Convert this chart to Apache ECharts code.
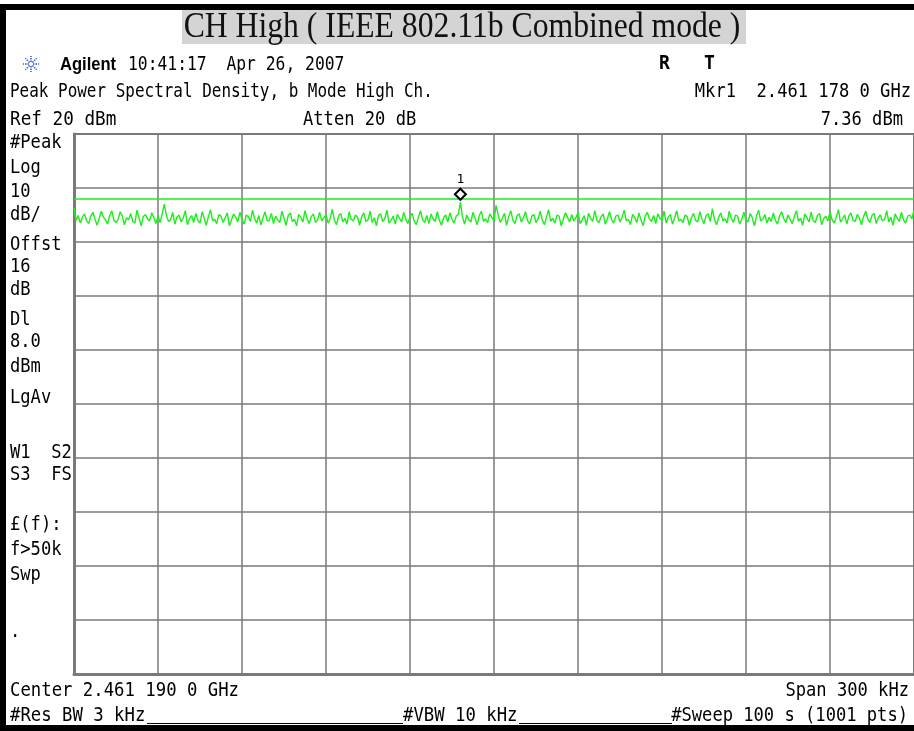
<!DOCTYPE html>
<html>
<head>
<meta charset="utf-8">
<script src="https://cdn.jsdelivr.net/npm/echarts@6/dist/echarts.min.js"></script>
<style>html,body{margin:0;padding:0;background:#fff;}#c{width:914px;height:731px;}</style>
</head>
<body>
<div id="c"></div>
<script>
// ---- data ----
const titleText = 'CH High ( IEEE 802.11b Combined mode )';
const centerGHz = 2.461190;
const spanKHz = 300;
const refLevelDbm = 20;
const dbPerDiv = 10;
const divisionsY = 10;
const divisionsX = 10;
const displayLineDbm = 8.0;
const markerFreqGHz = 2.4611780;
const markerDbm = 7.36;
const traceDbm = [
6.3,4.0,4.9,3.5,4.6,5.2,3.9,3.4,4.8,5.5,4.2,3.1,4.4,5.7,4.6,4.1,3.3,4.9,5.8,4.0,
3.6,4.2,5.6,4.8,3.2,4.5,4.1,5.3,3.8,3.5,5.9,4.4,3.0,4.7,5.1,4.3,3.9,5.4,4.6,3.4,
4.8,3.6,5.2,7.0,4.9,3.8,4.1,5.5,3.3,4.6,5.0,3.7,4.4,5.8,3.2,4.3,4.9,3.6,5.3,4.0,
3.5,5.6,4.4,3.1,4.7,6.0,3.9,4.2,3.4,5.1,4.8,3.6,4.5,5.4,3.0,4.1,5.2,4.6,3.7,5.5,
4.2,3.3,5.0,4.7,3.8,5.9,4.3,3.5,4.9,3.2,4.5,5.6,3.9,4.0,5.3,3.4,4.8,4.1,3.6,5.7,
4.4,3.1,4.9,5.4,3.8,4.2,3.0,5.1,4.6,3.7,5.8,4.3,3.4,4.7,5.2,3.6,4.1,5.5,3.9,4.5,
5.0,3.5,4.3,6.1,4.0,3.2,4.8,5.3,3.7,4.4,3.3,5.6,4.2,3.9,5.0,4.6,3.1,4.7,5.4,3.8,
4.1,5.7,3.6,4.5,3.0,4.9,5.2,3.8,4.3,5.9,3.5,4.0,4.8,3.3,5.1,4.4,3.7,5.5,4.2,3.4,
4.7,5.3,3.9,3.2,4.6,5.8,4.1,3.6,4.9,3.4,5.2,4.3,3.8,5.6,4.0,3.1,4.5,5.0,3.7,5.4,
4.2,3.5,4.8,5.1,7.36,4.6,3.3,5.0,4.1,3.7,5.5,4.4,3.2,4.9,5.7,3.8,4.3,3.6,5.2,4.5,
3.9,6.8,5.0,3.6,4.4,5.3,3.1,4.7,5.8,4.0,3.4,4.9,5.2,3.7,4.5,5.6,3.9,3.3,4.8,5.1,
3.6,4.3,5.7,4.1,3.2,4.6,6.0,3.8,4.4,3.5,5.0,4.8,3.0,4.2,5.4,4.6,3.7,5.1,3.9,4.5,
5.5,3.4,4.1,4.9,3.1,5.3,4.4,3.8,5.8,4.0,3.6,4.7,5.2,3.3,4.3,5.6,4.1,3.5,4.8,5.0,
3.7,4.6,5.9,3.9,4.2,3.2,5.1,4.5,3.6,5.4,4.1,3.0,4.8,5.5,4.3,3.8,4.9,3.4,5.2,4.4,
4.0,5.7,3.5,4.6,5.1,3.3,4.4,5.8,3.9,4.2,3.6,5.0,4.7,3.1,4.5,5.3,4.0,3.7,5.6,4.3,
3.4,4.9,5.2,3.8,6.2,4.1,3.2,4.6,5.4,3.9,4.3,3.5,5.7,4.4,3.6,5.0,4.8,3.3,4.2,5.5,
4.1,3.7,5.3,4.5,3.0,4.8,5.9,3.9,4.2,5.1,3.5,4.6,3.8,5.4,4.0,3.3,4.9,5.6,4.3,3.6,
5.0,4.2,3.4,4.7,5.8,3.8,4.4,3.1,5.2,4.5,3.7,5.5,4.0,3.6,4.9,5.3,3.2,4.3,4.8,3.9,
5.6,4.1,3.5,4.6,6.0,3.7,4.3,5.0,3.3,4.8,5.4,4.0,3.8,5.1,4.4,3.2,4.7,5.7,4.2,3.6,
4.9,5.3,3.4,4.5,5.0,3.9,4.2,5.8,3.7,4.6,3.1,5.2,4.4,3.8,5.5,4.1,3.5,4.8,5.0,4.3,
5.9
];
// annotation texts
const headerTime = '10:41:17  Apr 26, 2007';
const headerLine2Left = 'Peak Power Spectral Density, b Mode High Ch.';
const headerLine2Right = 'Mkr1  2.461 178 0 GHz';
const headerLine3Left = 'Ref 20 dBm';
const headerLine3Mid = 'Atten 20 dB';
const headerLine3Right = '7.36 dBm';
const leftLabels = ['#Peak','Log','10','dB/','Offst','16','dB','Dl','8.0','dBm','LgAv','W1  S2','S3  FS','£(f):','f>50k','Swp','.'];
const footerCenter = 'Center 2.461 190 0 GHz';
const footerSpan = 'Span 300 kHz';
const footerRbw = '#Res BW 3 kHz';
const footerVbw = '#VBW 10 kHz';
const footerSweep = '#Sweep 100 s (1001 pts)';

// ---- build ----
const startGHz = centerGHz - spanKHz / 2 / 1e6;
const n = traceDbm.length;
const traceData = traceDbm.map((v, i) => [i * spanKHz / (n - 1), v]);
const markerOffsetKHz = (markerFreqGHz - startGHz) * 1e6;
const yMax = refLevelDbm, yMin = refLevelDbm - dbPerDiv * divisionsY;

const MONO = '"DejaVu Sans Mono", monospace';
function T(text, x, y, opt) {
  opt = opt || {};
  return {
    type: 'text', x: x, y: y, scaleX: opt.sx || 0.9, z: 100,
    style: {
      text: text, x: 0, y: 0,
      textAlign: opt.align || 'left', textVerticalAlign: 'middle',
      font: (opt.weight || 'normal') + ' ' + (opt.size || 19) + 'px ' + (opt.family || MONO),
      fill: opt.color || '#000'
    }
  };
}
const leftY = [143,168,192,215,245,267,290,320,342,367,398,453,475,525,550,575,632];

const graphic = [];
// black frame pieces
graphic.push({type:'rect', shape:{x:0,y:4,width:914,height:6}, style:{fill:'#000'}, z:100});
graphic.push({type:'rect', shape:{x:0,y:4,width:6,height:727}, style:{fill:'#000'}, z:100});
graphic.push({type:'rect', shape:{x:0,y:725,width:914,height:6}, style:{fill:'#000'}, z:100});
graphic.push({type:'line', shape:{x1:147,y1:723.5,x2:403,y2:723.5}, style:{stroke:'#000',lineWidth:1}, z:100});
graphic.push({type:'line', shape:{x1:519,y1:723.5,x2:672,y2:723.5}, style:{stroke:'#000',lineWidth:1}, z:100});
// title box
graphic.push({type:'rect', shape:{x:182,y:10,width:564,height:34}, style:{fill:'#d4d4d4'}, z:99});
graphic.push(T(titleText, 462, 28, {align:'center', sx:0.88, size:36, family:'"Liberation Serif", serif', color:'#111'}));
// starburst logo
const cx = 31, cy = 64;
for (let k = 0; k < 8; k++) {
  const a = k * Math.PI / 4;
  graphic.push({type:'line', shape:{x1:cx+2*Math.cos(a), y1:cy+2*Math.sin(a), x2:cx+8*Math.cos(a), y2:cy+8*Math.sin(a)},
    style:{stroke:'#3a4fd0', lineWidth:1.5, lineDash:[1.5,1]}, z:100});
}
graphic.push(T('Agilent', 60, 65, {weight:'bold', size:18, sx:0.92, family:'"Liberation Sans", Arial, sans-serif'}));
graphic.push(T(headerTime, 128, 65, {sx:0.86}));
graphic.push(T('R', 659, 64, {weight:'bold', sx:0.95}));
graphic.push(T('T', 704, 64, {weight:'bold', sx:0.95}));
graphic.push(T(headerLine2Left, 10, 92, {sx:0.84}));
graphic.push(T(headerLine2Right, 911, 92, {align:'right', sx:0.9}));
graphic.push(T(headerLine3Left, 10, 120, {sx:0.93}));
graphic.push(T(headerLine3Mid, 303, 120, {sx:0.9}));
graphic.push(T(headerLine3Right, 903, 120, {align:'right', sx:0.9}));
leftLabels.forEach((s, i) => graphic.push(T(s, 10, leftY[i], {sx:0.9})));
graphic.push(T(footerCenter, 10, 691, {sx:0.91}));
graphic.push(T(footerSpan, 909, 691, {align:'right', sx:0.9}));
graphic.push(T(footerRbw, 10, 716, {sx:0.91}));
graphic.push(T(footerVbw, 403, 716, {sx:0.91}));
graphic.push(T(footerSweep, 908, 716, {align:'right', sx:0.9}));

const gridCol = '#7a7a7a';
const option = {
  animation: false,
  backgroundColor: '#ffffff',
  grid: {left:74, top:134, width:843, height:540, show:true, borderColor:gridCol, borderWidth:2, backgroundColor:'#fff'},
  xAxis: {
    type:'value', min:0, max:spanKHz, interval:spanKHz/divisionsX,
    axisLabel:{show:false}, axisTick:{show:false},
    axisLine:{show:true, onZero:false, lineStyle:{color:gridCol, width:3}},
    splitLine:{show:true, lineStyle:{color:gridCol, width:1.5}}
  },
  yAxis: {
    type:'value', min:yMin, max:yMax, interval:dbPerDiv,
    axisLabel:{show:false}, axisTick:{show:false},
    axisLine:{show:true, onZero:false, lineStyle:{color:gridCol, width:3}},
    splitLine:{show:true, lineStyle:{color:gridCol, width:1.5}}
  },
  series: [{
    type:'line', data:traceData, showSymbol:false, symbol:'none',
    lineStyle:{color:'#19f019', width:1.4},
    markLine:{
      silent:true, symbol:['none','none'], label:{show:false},
      lineStyle:{color:'#19f019', width:1.5, type:'solid'},
      data:[{yAxis:displayLineDbm}]
    },
    markPoint:{
      silent:true,
      symbol:'diamond', symbolSize:[11,11], symbolOffset:[0,-8],
      itemStyle:{color:'#fff', borderColor:'#000', borderWidth:2},
      label:{show:true, position:'top', distance:2, formatter:'1', color:'#000', fontSize:13, fontFamily:'DejaVu Sans Mono'},
      data:[{coord:[markerOffsetKHz, markerDbm]}]
    }
  }],
  graphic: graphic
};
const chart = echarts.init(document.getElementById('c'), null, {renderer:'canvas'});
chart.setOption(option);
</script>
</body>
</html>
